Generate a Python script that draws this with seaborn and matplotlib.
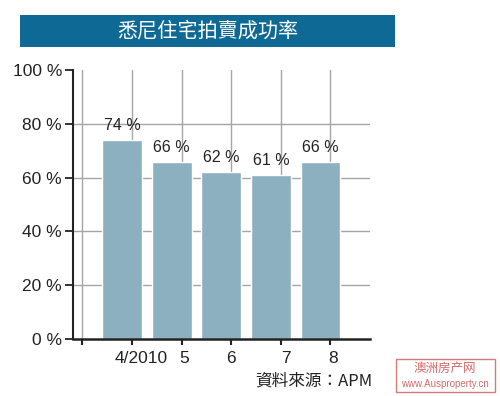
import matplotlib
matplotlib.use("Agg")
import matplotlib.pyplot as plt
import seaborn as sns
import pandas as pd
from matplotlib.patches import Rectangle

months = ["4/2010", "5", "6", "7", "8"]
rates = [74, 66, 62, 61, 66]
yticks = [0, 20, 40, 60, 80, 100]
ytick_labels = ["0 %", "20 %", "40 %", "60 %", "80 %", "100 %"]
title = "悉尼住宅拍賣成功率"
source = "資料來源：APM"

df = pd.DataFrame({"month": months, "rate": rates})

sns.set_theme(style="white")
FONT = ["Liberation Sans Narrow", "Liberation Sans", "DejaVu Sans"]
CJK = ["Noto Sans CJK TC", "DejaVu Sans"]
plt.rcParams["font.family"] = FONT

fig = plt.figure(figsize=(5.0, 3.96), dpi=100)
ax = fig.add_axes([0.146, 0.144, 0.594, 0.679])

sns.barplot(data=df, x="month", y="rate", color="#8db0c1", width=0.8,
            saturation=1, ax=ax, zorder=2)

ax.set_ylim(0, 100)
ax.set_xlim(-0.99, 5.0)
ax.set_xlabel("")
ax.set_ylabel("")

# grid
ax.xaxis.remove_overlapping_locs = False
major_x = [-0.806, 0.2, 1.2, 2.2, 3.2, 4.2]
ax.set_xticks(major_x)
ax.set_xticklabels([""] * len(major_x))
ax.set_xticks([0.38, 1.25, 2.2, 3.31, 4.25], minor=True)
ax.set_xticklabels(months, minor=True, fontsize=12.5, color="#222222")
ax.tick_params(axis="x", which="major", direction="out", length=4, width=1.5,
               color="#222222", bottom=True)
ax.tick_params(axis="x", which="minor", length=0, pad=9)

ax.set_yticks(yticks)
ax.set_yticklabels(ytick_labels, fontsize=12.5, color="#222222")
ax.tick_params(axis="y", direction="out", length=6, width=1.3, color="#222222",
               left=True, pad=2)

ax.set_axisbelow(True)
for x in major_x:
    ax.axvline(x, color="#a5a5a5", lw=1.0, zorder=0)
for y in yticks[1:-1]:
    ax.axhline(y, color="#a5a5a5", lw=1.0, zorder=0)

for s in ["top", "right"]:
    ax.spines[s].set_visible(False)
ax.spines["left"].set_color("#222222")
ax.spines["left"].set_linewidth(1.5)
ax.spines["bottom"].set_color("#222222")
ax.spines["bottom"].set_linewidth(1.8)

for c in ax.containers:
    ax.bar_label(c, labels=[f"{v} %" for v in rates], padding=5,
                 fontsize=11.5, color="#222222")

# title bar
fig.patches.append(Rectangle((20 / 500, 1 - 47 / 396), 375 / 500, 32 / 396,
                             transform=fig.transFigure, facecolor="#0e6a94",
                             edgecolor="none"))
fig.text(207.5 / 500, 1 - 31 / 396, title, color="white", fontsize=14.5,
         ha="center", va="center", family=CJK, fontweight="medium")

fig.text(372 / 500, 1 - 381 / 396, source, color="#222222", fontsize=12,
         ha="right", va="center", family=CJK)

# watermark
fig.patches.append(Rectangle((396 / 500, 1 - 392 / 396), 99 / 500, 33 / 396,
                             transform=fig.transFigure, facecolor="white",
                             edgecolor="#d77a7a", lw=1))
fig.text(445 / 500, 1 - 368 / 396, "澳洲房产网", color="#d66a6a", fontsize=9,
         ha="center", va="center", family=["Noto Sans CJK SC", "DejaVu Sans"])
fig.text(445 / 500, 1 - 384 / 396, "www.Ausproperty.cn", color="#d66a6a",
         fontsize=7, ha="center", va="center")

fig.savefig("out.png", dpi=100)
